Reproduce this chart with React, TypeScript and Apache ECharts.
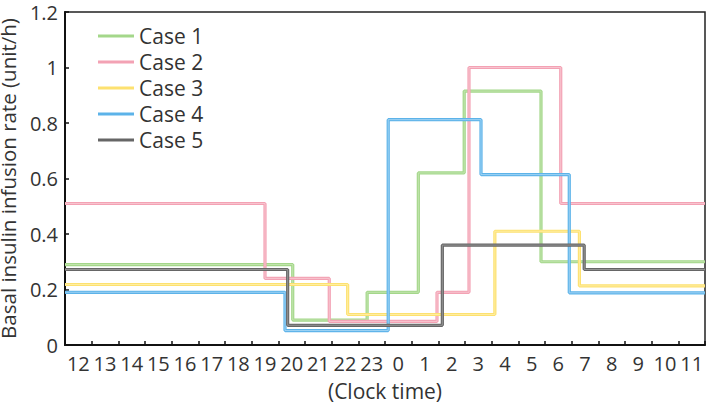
import React, { useEffect, useRef } from "react";
import * as echarts from "echarts";

// Clock-time tick labels (each label occupies one hour band, starting at 12:00)
const hourLabels = ["12","13","14","15","16","17","18","19","20","21","22","23","0","1","2","3","4","5","6","7","8","9","10","11"];

// Step series: [hours since 12:00 when the rate starts, rate (unit/h)]
const case1: [number, number][] = [[0, 0.29], [8.54, 0.09], [11.33, 0.19], [13.25, 0.62], [14.97, 0.915], [17.85, 0.30], [24, 0.30]];
const case2: [number, number][] = [[0, 0.51], [7.5, 0.24], [9.91, 0.085], [13.95, 0.19], [15.15, 1.0], [18.59, 0.51], [24, 0.51]];
const case3: [number, number][] = [[0, 0.218], [10.6, 0.11], [16.12, 0.41], [19.29, 0.213], [24, 0.213]];
const case4: [number, number][] = [[0, 0.19], [8.25, 0.052], [12.12, 0.812], [15.6, 0.614], [18.91, 0.188], [24, 0.188]];
const case5: [number, number][] = [[0, 0.272], [8.35, 0.071], [14.15, 0.36], [19.47, 0.272], [24, 0.272]];

const caseNames = ["Case 1", "Case 2", "Case 3", "Case 4", "Case 5"];
const caseData = [case1, case2, case3, case4, case5];
const outerColors = ["#a4d78a", "#f3a2b4", "#fde170", "#5cb3e9", "#666666"];
const innerColors = ["#c9e9b8", "#f9cdd7", "#fff1ad", "#b0dbf6", "#a0a0a0"];

const FONT = "Open Sans";
const TEXT = "#333333";

export default function App() {
  const ref = useRef<HTMLDivElement>(null);
  useEffect(() => {
    if (!ref.current) return;
    const chart = echarts.init(ref.current, undefined, { renderer: "svg" });
    const series: any[] = [];
    caseData.forEach((d, i) => {
      series.push({
        name: caseNames[i],
        type: "line",
        xAxisIndex: 1,
        step: "end",
        data: d,
        symbol: "none",
        lineStyle: { color: outerColors[i], width: 3.2 },
        itemStyle: { color: outerColors[i] },
        z: 2 + i,
      });
    });
    caseData.forEach((d, i) => {
      series.push({
        name: caseNames[i] + " inner",
        type: "line",
        xAxisIndex: 1,
        step: "end",
        data: d,
        symbol: "none",
        lineStyle: { color: innerColors[i], width: 0.8 },
        itemStyle: { color: innerColors[i] },
        z: 2 + i,
        silent: true,
      });
    });
    chart.setOption({
      animation: false,
      backgroundColor: "#ffffff",
      textStyle: { fontFamily: FONT },
      grid: {
        left: 65, right: 4, top: 12, bottom: 60,
        outerBoundsMode: "none",
        containLabel: false,
        show: true, borderColor: "#222", borderWidth: 1.5,
      },
      legend: {
        data: caseNames,
        orient: "vertical",
        left: 93,
        top: 18,
        padding: 5,
        icon: "rect",
        itemWidth: 36,
        itemHeight: 3,
        itemGap: 0,
        textStyle: { fontFamily: FONT, fontSize: 21, color: TEXT, lineHeight: 26 },
      },
      xAxis: [
        {
          type: "category",
          data: hourLabels,
          boundaryGap: true,
          position: "bottom",
          name: "(Clock time)",
          nameLocation: "middle",
          nameGap: 35,
          nameTextStyle: { fontFamily: FONT, fontSize: 21, color: TEXT },
          axisLine: { lineStyle: { color: "#111", width: 2 } },
          axisTick: { show: true, inside: true, length: 4, interval: 0, lineStyle: { color: "#111", width: 1.5 } },
          axisLabel: { interval: 0, fontFamily: FONT, fontSize: 20, color: TEXT, margin: 8 },
          splitLine: { show: false },
        },
        {
          type: "value",
          min: 0,
          max: 24,
          show: false,
          splitLine: { show: false },
        },
      ],
      yAxis: {
        type: "value",
        min: 0,
        max: 1.2,
        interval: 0.2,
        name: "Basal insulin infusion rate (unit/h)",
        nameLocation: "middle",
        nameGap: 35,
        nameTextStyle: { fontFamily: FONT, fontSize: 20.5, color: TEXT, lineHeight: 22 },
        axisLine: { show: true, lineStyle: { color: "#111", width: 2 } },
        axisTick: { show: true, inside: true, length: 4, lineStyle: { color: "#111", width: 1.5 } },
        axisLabel: { fontFamily: FONT, fontSize: 20, color: TEXT, margin: 7 },
        splitLine: { show: false },
      },
      series,
    });
    return () => chart.dispose();
  }, []);
  return <div ref={ref} style={{ width: 709, height: 405, position: "absolute", left: 0, top: 0 }} />;
}
